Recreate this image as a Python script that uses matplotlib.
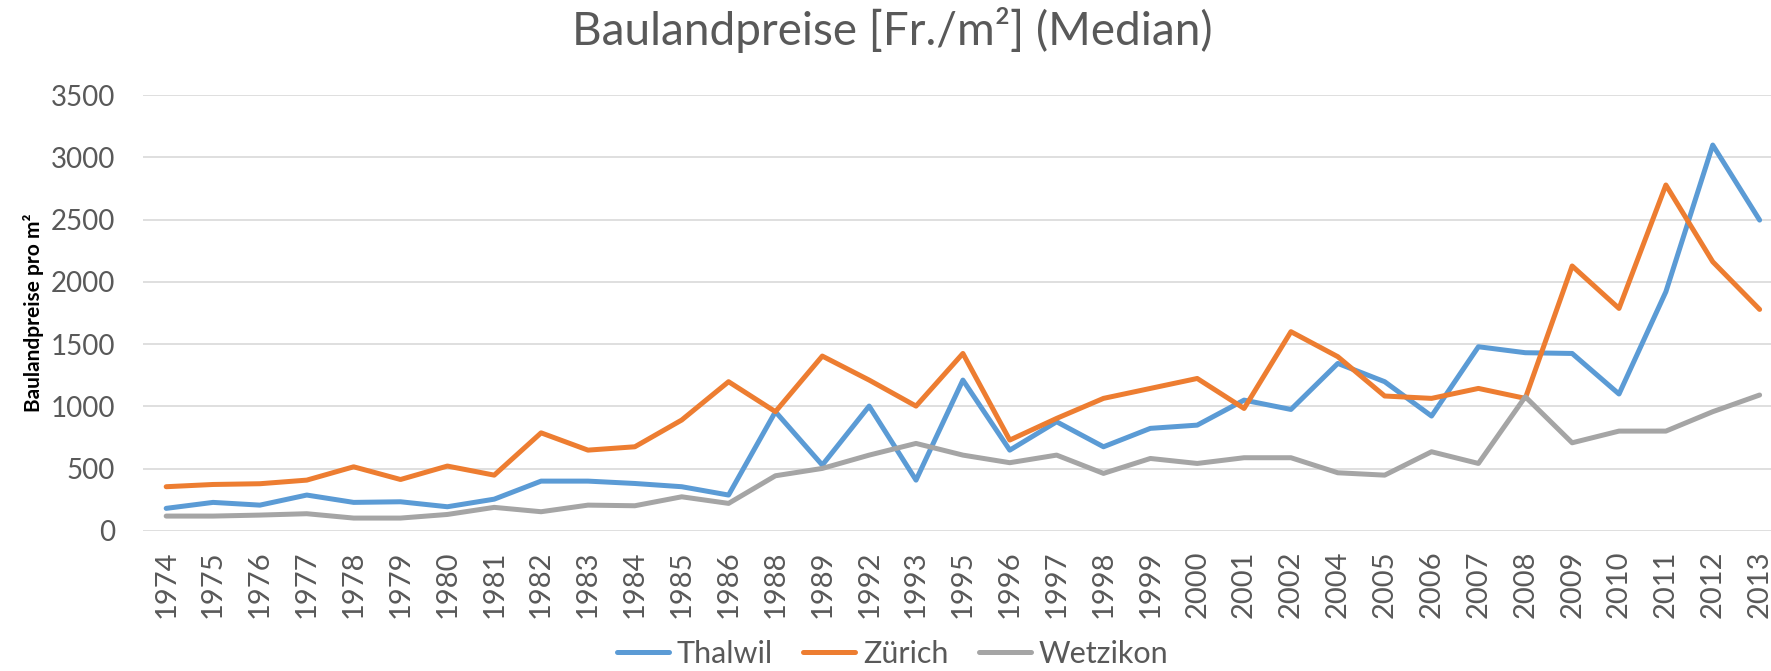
import matplotlib
matplotlib.use("Agg")
import matplotlib.pyplot as plt

plt.rcParams['font.family'] = ['Lato', 'DejaVu Sans']

# values
years = ['1974', '1975', '1976', '1977', '1978', '1979', '1980', '1981', '1982', '1983',
         '1984', '1985', '1986', '1988', '1989', '1992', '1993', '1995', '1996', '1997',
         '1998', '1999', '2000', '2001', '2002', '2004', '2005', '2006', '2007', '2008',
         '2009', '2010', '2011', '2012', '2013']
thalwil = [180, 228, 206, 287, 228, 233, 193, 254, 399, 399,
           380, 354, 287, 957, 528, 1002, 407, 1211, 648, 876,
           675, 823, 849, 1050, 975, 1345, 1198, 922, 1479, 1431,
           1425, 1099, 1921, 3100, 2497]
zuerich = [354, 372, 378, 407, 514, 412, 520, 447, 787, 648,
           675, 890, 1198, 957, 1404, 1211, 1002, 1425, 729, 903,
           1064, 1144, 1224, 983, 1600, 1399, 1083, 1064, 1144, 1064,
           2128, 1787, 2779, 2162, 1779]
wetzikon = [118, 118, 126, 137, 102, 102, 131, 188, 153, 206,
            201, 273, 220, 442, 501, 608, 702, 608, 547, 608,
            461, 581, 541, 587, 587, 466, 447, 635, 541, 1077,
            707, 801, 801, 957, 1091]

series = [('Thalwil', thalwil, '#5B9BD5'),
          ('Zürich', zuerich, '#ED7D31'),
          ('Wetzikon', wetzikon, '#A5A5A5')]

text_col = '#595959'

fig = plt.figure(figsize=(17.71, 6.71), dpi=100)
ax = fig.add_axes([0.0806, 0.209, 0.9262, 0.649])

x = list(range(len(years)))
for name, vals, col in series:
    ax.plot(x, vals, color=col, lw=3.6, label=name, solid_capstyle='round',
            solid_joinstyle='round')

ax.set_xlim(-0.5, len(years) - 0.5)
ax.set_ylim(0, 3500)
ax.set_yticks(range(0, 3501, 500))
ax.set_xticks(x)
ax.set_xticklabels(years, rotation=90, va='top', ha='center')
ax.yaxis.grid(True, color='#D9D9D9', lw=1.2)
ax.set_axisbelow(True)
for s in ax.spines.values():
    s.set_visible(False)
ax.tick_params(axis='both', length=0, colors=text_col)
ax.tick_params(axis='x', pad=14, labelsize=21)
ax.tick_params(axis='y', pad=20, labelsize=20)

ax.set_ylabel('Baulandpreise pro m²', fontsize=15, fontweight='bold', color='black')
ax.yaxis.set_label_coords(-0.060, 0.5)
fig.suptitle('Baulandpreise [Fr./m²] (Median)', fontsize=33, color=text_col, x=0.504, y=0.99)

fig.legend(loc='center', bbox_to_anchor=(0.504, 0.026), ncol=3, frameon=False,
           fontsize=22, labelcolor=text_col, handlelength=1.7, columnspacing=1.0,
           handletextpad=0.25)

fig.savefig('out.png', dpi=100)
